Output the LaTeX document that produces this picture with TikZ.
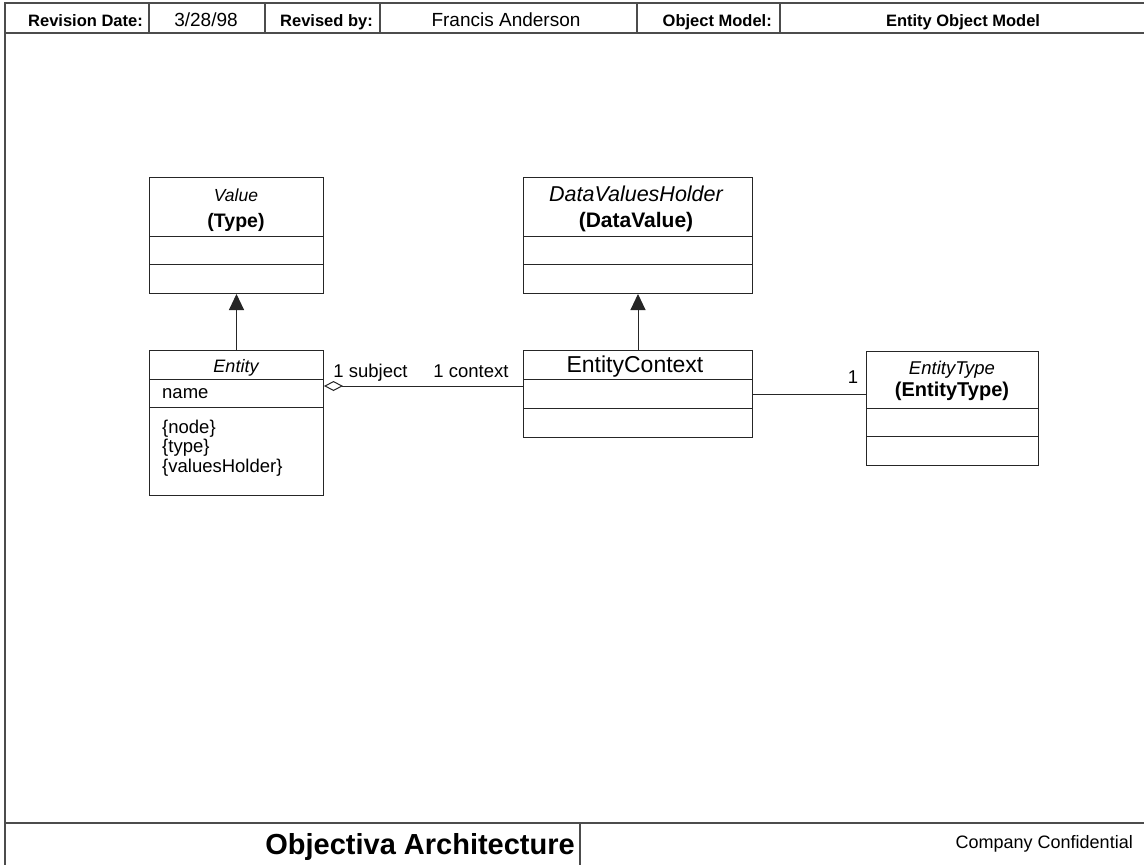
\documentclass[tikz,border=0pt]{standalone}
\usepackage{fontspec}
\setmainfont{Liberation Sans}
\usetikzlibrary{arrows.meta}

\tikzset{
  frame/.style={draw=black!70, line width=1.5pt},
  hdrkey/.style={inner sep=0pt, anchor=base east, font=\fontsize{16.5}{19}\selectfont\bfseries},
  hdrval/.style={inner sep=0pt, anchor=base, font=\fontsize{19}{22}\selectfont},
  umlbox/.style={draw=black!85, line width=1pt, anchor=north west, inner sep=0pt},
  part/.style={draw=black!85, line width=1pt},
  txt/.style={inner sep=0pt, anchor=base, font=\fontsize{18.5}{21}\selectfont},
  attr/.style={inner sep=0pt, anchor=base west, font=\fontsize{18.5}{21}\selectfont},
  gen/.style={draw=black!85, line width=1pt, -{Triangle[length=16pt,width=15pt]}},
  agg/.style={draw=black!85, line width=1pt, {Diamond[open,length=19pt,width=10pt]}-},
  assoc/.style={draw=black!85, line width=1pt},
}

\begin{document}
\begin{tikzpicture}[x=1pt,y=-1pt]
\useasboundingbox (0,0) rectangle (1144,865);
\fill[white] (0,0) rectangle (1144,865);
\clip (0,0) rectangle (1144,865);

% page frame, title block and footer
\draw[frame] (5,3) rectangle (1150,872);
\draw[frame] (5,33) -- (1150,33);
\foreach \x in {149,265,380,637,780} \draw[frame] (\x,3) -- (\x,33);
\draw[frame] (5,823) -- (1150,823);
\draw[frame] (580,823) -- (580,872);

\node[hdrkey] (kdate) at (143,26) {Revision Date:};
\node[hdrval] (vdate) at (206,26) {3/28/98};
\node[hdrkey] (kby) at (373,26) {Revised by:};
\node[hdrval] (vby) at (506,26) {Francis Anderson};
\node[hdrkey] (kmodel) at (772,26) {Object Model:};
\node[hdrkey, anchor=base] (vmodel) at (963,26) {Entity Object Model};

\node[inner sep=0pt, anchor=base east, font=\fontsize{29}{32}\selectfont\bfseries] (ftitle) at (575,854) {Objectiva Architecture};
\node[inner sep=0pt, anchor=base east, font=\fontsize{18}{21}\selectfont] (fconf) at (1133,848) {Company Confidential};

% classes
\node[umlbox, minimum width=174pt, minimum height=116pt] (value) at (149,177) {};
\draw[part] (value.west |- 0,236) -- (value.east |- 0,236);
\draw[part] (value.west |- 0,264) -- (value.east |- 0,264);
\node[txt, font=\fontsize{17.5}{20}\selectfont\itshape] (valuen) at (236,201) {Value};
\node[txt, font=\fontsize{19.5}{22}\selectfont\bfseries] (valuet) at (236,227) {(Type)};

\node[umlbox, minimum width=229pt, minimum height=116pt] (dvh) at (523,177) {};
\draw[part] (dvh.west |- 0,236) -- (dvh.east |- 0,236);
\draw[part] (dvh.west |- 0,264) -- (dvh.east |- 0,264);
\node[txt, font=\fontsize{21.5}{24}\selectfont\itshape] (dvhn) at (636,201) {DataValuesHolder};
\node[txt, font=\fontsize{21}{23}\selectfont\bfseries] (dvht) at (636,227) {(DataValue)};

\node[umlbox, minimum width=174pt, minimum height=145pt] (entity) at (149,350) {};
\draw[part] (entity.west |- 0,379) -- (entity.east |- 0,379);
\draw[part] (entity.west |- 0,407) -- (entity.east |- 0,407);
\node[txt, font=\fontsize{18}{21}\selectfont\itshape] (entityn) at (236,372) {Entity};
\node[attr] (aname) at (162,398) {name};
\node[attr] (anode) at (162,433) {\{node\}};
\node[attr] (atype) at (162,452) {\{type\}};
\node[attr] (aholder) at (162,472) {\{valuesHolder\}};

\node[umlbox, minimum width=229pt, minimum height=87pt] (ctx) at (523,350) {};
\draw[part] (ctx.west |- 0,379) -- (ctx.east |- 0,379);
\draw[part] (ctx.west |- 0,408) -- (ctx.east |- 0,408);
\node[txt, font=\fontsize{23}{26}\selectfont] (ctxn) at (635,372) {EntityContext};

\node[umlbox, minimum width=172pt, minimum height=114pt] (etype) at (866,351) {};
\draw[part] (etype.west |- 0,408) -- (etype.east |- 0,408);
\draw[part] (etype.west |- 0,436) -- (etype.east |- 0,436);
\node[txt, font=\fontsize{18.5}{21}\selectfont\itshape] (etypen) at (952,374) {EntityType};
\node[txt, font=\fontsize{20}{22}\selectfont\bfseries] (etypet) at (952,396) {(EntityType)};

% relationships
\draw[gen] (entity.north) -- (value.south);
\draw[gen] (ctx.north) -- (dvh.south);
\draw[agg] (entity.east |- 0,386) -- (ctx.west |- 0,386);
\draw[assoc] (ctx.east |- 0,394) -- (etype.west |- 0,394);

\node[txt] (subj) at (370.5,377) {1 subject};
\node[txt] (cont) at (471,377) {1 context};
\node[txt] (one) at (853,383) {1};
\end{tikzpicture}
\end{document}
